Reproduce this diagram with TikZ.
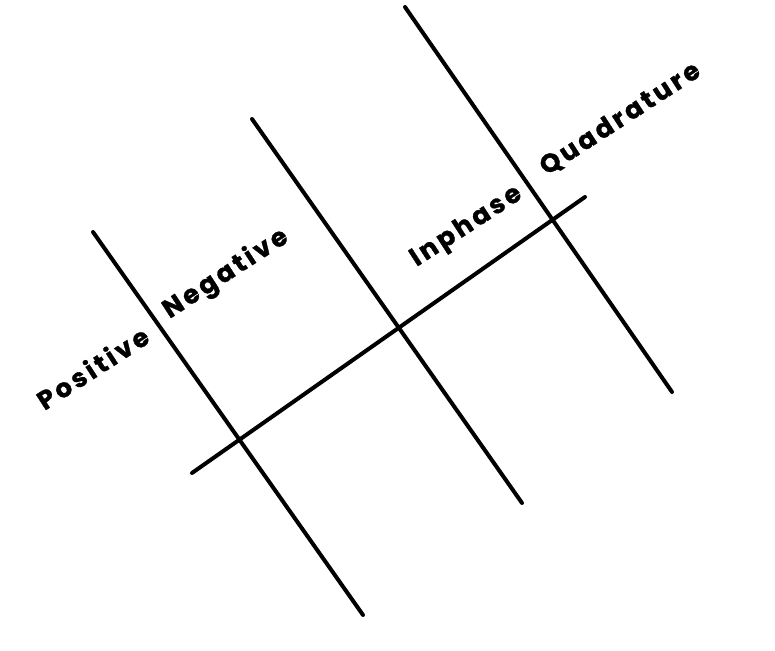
\documentclass[tikz,border=0pt]{standalone}
\usepackage{fontspec}
\newfontfamily\lblfont{Poppins Bold}[LetterSpace=12, FakeBold=1.2]
\begin{document}
\begin{tikzpicture}[
  x=1pt, y=1pt,
  every node/.style={inner sep=0pt, anchor=base west, rotate=33,
    font=\lblfont\fontsize{26}{26}\selectfont},
  line width=4pt, line cap=round
]
  \useasboundingbox (0,0) rectangle (775,650);

  \coordinate (axL) at (192,177);
  \coordinate (axR) at (585,453);

  \coordinate (l1top) at (93,418);
  \coordinate (l1bot) at (363,35);
  \coordinate (l2top) at (252,531);
  \coordinate (l2bot) at (522,147);
  \coordinate (l3top) at (405,643);
  \coordinate (l3bot) at (672,258);

  \draw (axL)--(axR);
  \draw (l1top)--(l1bot) (l2top)--(l2bot) (l3top)--(l3bot);

  \node (pos) at (43,238) {Positive};
  \node (neg) at (168,330) {Negative};
  \node (inph) at (415,382) {Inphase};
  \node (quad) at (545,473) {Quadrature};
\end{tikzpicture}
\end{document}
